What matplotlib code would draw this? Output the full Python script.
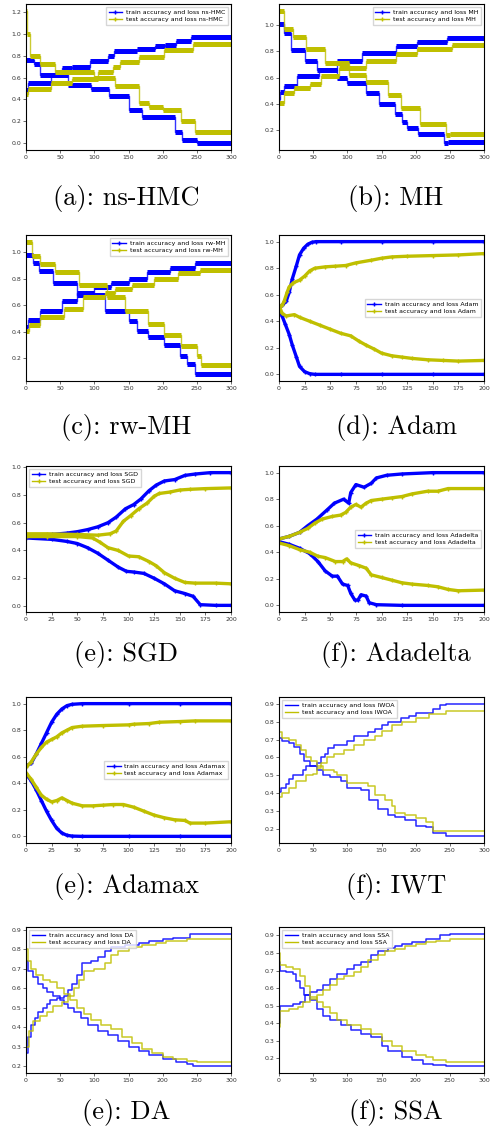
"""Training curves for eight optimisers, 5x2 grid with captions."""

import matplotlib

matplotlib.use("Agg")
import matplotlib.pyplot as plt
from matplotlib.lines import Line2D
from matplotlib.ticker import MultipleLocator

BLUE = "#0000ff"
YELLOW = "#bfbf00"

# ---- step-like sampler runs (x where value starts, value) ----
nshmc_train_acc = [(0, 0.49), (3, 0.55), (37, 0.62), (45, 0.64), (52, 0.69), (67, 0.70),
                   (94, 0.75), (120, 0.80), (129, 0.84), (163, 0.86), (189, 0.89),
                   (203, 0.90), (220, 0.93), (242, 0.97)]
nshmc_train_loss = [(0, 0.76), (11, 0.72), (20, 0.62), (62, 0.53), (95, 0.50), (122, 0.43),
                    (150, 0.30), (170, 0.24), (218, 0.10), (228, 0.03), (250, 0.00)]
nshmc_test_acc = [(0, 0.45), (3, 0.50), (37, 0.55), (67, 0.59), (105, 0.65), (128, 0.70),
                  (137, 0.74), (165, 0.79), (202, 0.85), (245, 0.91)]
nshmc_test_loss = [(0, 1.21), (1, 1.00), (6, 0.80), (20, 0.72), (42, 0.65), (99, 0.60),
                   (130, 0.52), (165, 0.37), (180, 0.33), (200, 0.30), (227, 0.20),
                   (247, 0.10)]

mh_train_acc = [(0, 0.44), (2, 0.49), (7, 0.54), (26, 0.61), (58, 0.66), (85, 0.73),
                (121, 0.79), (171, 0.84), (202, 0.87), (246, 0.90)]
mh_train_loss = [(0, 1.01), (7, 0.94), (18, 0.81), (38, 0.73), (55, 0.66), (85, 0.60),
                 (100, 0.56), (127, 0.48), (147, 0.40), (170, 0.32), (180, 0.26),
                 (188, 0.22), (203, 0.17), (242, 0.10), (247, 0.11)]
mh_test_acc = [(0, 0.41), (7, 0.48), (22, 0.52), (46, 0.55), (61, 0.61), (88, 0.67),
               (127, 0.73), (171, 0.78), (202, 0.82), (253, 0.85)]
mh_test_loss = [(0, 1.11), (8, 0.97), (20, 0.91), (40, 0.82), (68, 0.71), (103, 0.62),
                (127, 0.57), (159, 0.47), (179, 0.37), (207, 0.25), (245, 0.16),
                (250, 0.17)]

rwmh_train_acc = [(0, 0.44), (3, 0.49), (20, 0.56), (53, 0.63), (75, 0.69), (100, 0.74),
                  (125, 0.77), (150, 0.80), (177, 0.85), (210, 0.88), (247, 0.92)]
rwmh_train_loss = [(0, 0.98), (10, 0.92), (19, 0.86), (39, 0.77), (75, 0.68), (115, 0.56),
                   (150, 0.48), (163, 0.41), (178, 0.36), (202, 0.30), (225, 0.22),
                   (235, 0.16), (248, 0.08)]
rwmh_test_acc = [(0, 0.41), (5, 0.45), (20, 0.51), (55, 0.57), (83, 0.66), (115, 0.69),
                 (130, 0.72), (155, 0.75), (188, 0.80), (222, 0.84), (255, 0.87)]
rwmh_test_loss = [(0, 1.08), (9, 0.97), (20, 0.91), (43, 0.85), (78, 0.75), (118, 0.66),
                  (145, 0.56), (178, 0.46), (202, 0.38), (227, 0.29), (250, 0.22),
                  (256, 0.15)]

# ---- gradient optimisers (epoch, value) ----
adam_train_acc = [(0, 0.50), (3, 0.52), (7, 0.55), (10, 0.62), (13, 0.72), (17, 0.82),
                  (20, 0.90), (24, 0.95), (28, 0.98), (32, 0.995), (36, 1.0), (60, 1.0),
                  (100, 1.0), (150, 1.0), (200, 1.0)]
adam_train_loss = [(0, 0.50), (3, 0.44), (6, 0.38), (10, 0.30), (13, 0.22), (17, 0.13),
                   (20, 0.06), (25, 0.02), (30, 0.005), (35, 0.0), (60, 0.0), (100, 0.0),
                   (150, 0.0), (200, 0.0)]
adam_test_acc = [(0, 0.50), (3, 0.52), (5, 0.55), (8, 0.62), (10, 0.66), (14, 0.69),
                 (20, 0.71), (25, 0.74), (30, 0.78), (35, 0.80), (45, 0.81), (55, 0.815),
                 (65, 0.82), (75, 0.84), (90, 0.86), (100, 0.875), (110, 0.885),
                 (125, 0.89), (150, 0.895), (175, 0.90), (200, 0.91)]
adam_test_loss = [(0, 0.52), (3, 0.46), (7, 0.44), (15, 0.45), (20, 0.43), (30, 0.40),
                  (40, 0.37), (50, 0.34), (60, 0.31), (70, 0.29), (78, 0.25), (85, 0.22),
                  (93, 0.19), (100, 0.16), (110, 0.14), (120, 0.13), (130, 0.12),
                  (145, 0.11), (160, 0.105), (175, 0.10), (200, 0.105)]

sgd_train_acc = [(0, 0.51), (25, 0.515), (40, 0.525), (50, 0.535), (60, 0.55), (70, 0.57),
                 (80, 0.60), (88, 0.64), (97, 0.70), (105, 0.73), (112, 0.77), (120, 0.83),
                 (127, 0.87), (135, 0.90), (145, 0.91), (155, 0.94), (165, 0.95),
                 (180, 0.96), (200, 0.96)]
sgd_train_loss = [(0, 0.49), (25, 0.48), (40, 0.465), (50, 0.45), (60, 0.42), (70, 0.38),
                  (80, 0.33), (90, 0.28), (98, 0.25), (105, 0.245), (115, 0.235),
                  (125, 0.20), (135, 0.16), (145, 0.11), (155, 0.09), (163, 0.07),
                  (170, 0.01), (185, 0.005), (200, 0.005)]
sgd_test_acc = [(0, 0.52), (20, 0.52), (50, 0.515), (70, 0.51), (82, 0.52), (88, 0.54),
                (95, 0.61), (102, 0.65), (110, 0.70), (118, 0.74), (125, 0.79), (130, 0.81),
                (140, 0.82), (150, 0.835), (160, 0.84), (175, 0.845), (200, 0.85)]
sgd_test_loss = [(0, 0.50), (20, 0.50), (50, 0.50), (65, 0.49), (72, 0.46), (80, 0.42),
                 (90, 0.40), (100, 0.36), (110, 0.355), (120, 0.32), (127, 0.29),
                 (135, 0.24), (145, 0.20), (155, 0.17), (165, 0.165), (185, 0.165),
                 (200, 0.16)]

adadelta_train_acc = [(0, 0.50), (10, 0.52), (20, 0.55), (28, 0.60), (37, 0.65), (47, 0.72),
                      (54, 0.77), (63, 0.80), (68, 0.77), (70, 0.85), (75, 0.91),
                      (83, 0.89), (90, 0.92), (95, 0.96), (105, 0.98), (120, 0.99),
                      (150, 1.0), (200, 1.0)]
adadelta_train_loss = [(0, 0.48), (10, 0.46), (20, 0.43), (30, 0.39), (38, 0.33),
                       (45, 0.26), (52, 0.22), (57, 0.22), (62, 0.16), (67, 0.15),
                       (70, 0.09), (74, 0.04), (77, 0.04), (80, 0.08), (85, 0.07),
                       (88, 0.02), (95, 0.005), (120, 0.0), (200, 0.0)]
adadelta_test_acc = [(0, 0.50), (10, 0.52), (20, 0.55), (28, 0.58), (35, 0.62), (42, 0.65),
                     (52, 0.67), (60, 0.68), (65, 0.70), (70, 0.74), (75, 0.76), (80, 0.74),
                     (85, 0.77), (90, 0.79), (100, 0.80), (110, 0.81), (120, 0.82),
                     (130, 0.84), (145, 0.86), (155, 0.86), (165, 0.88), (200, 0.88)]
adadelta_test_loss = [(0, 0.47), (10, 0.45), (20, 0.42), (30, 0.40), (38, 0.37), (45, 0.36),
                      (55, 0.33), (62, 0.33), (66, 0.35), (70, 0.32), (78, 0.30),
                      (85, 0.28), (90, 0.23), (100, 0.21), (110, 0.19), (120, 0.17),
                      (130, 0.16), (145, 0.15), (155, 0.14), (165, 0.12), (175, 0.11),
                      (200, 0.115)]

adamax_train_acc = [(0, 0.53), (5, 0.55), (10, 0.62), (15, 0.70), (20, 0.78), (25, 0.86),
                    (30, 0.92), (35, 0.96), (40, 0.985), (45, 0.995), (55, 1.0), (100, 1.0),
                    (150, 1.0), (200, 1.0)]
adamax_train_loss = [(0, 0.47), (5, 0.42), (10, 0.35), (15, 0.27), (20, 0.19), (25, 0.12),
                     (30, 0.06), (35, 0.025), (40, 0.008), (45, 0.002), (55, 0.0),
                     (100, 0.0), (150, 0.0), (200, 0.0)]
adamax_test_acc = [(0, 0.52), (5, 0.56), (10, 0.62), (15, 0.67), (20, 0.71), (25, 0.73),
                   (30, 0.75), (35, 0.78), (40, 0.80), (45, 0.82), (55, 0.83), (75, 0.835),
                   (100, 0.84), (105, 0.845), (120, 0.85), (130, 0.86), (150, 0.865),
                   (165, 0.87), (200, 0.87)]
adamax_test_loss = [(0, 0.48), (5, 0.43), (10, 0.37), (15, 0.31), (20, 0.28), (25, 0.26),
                    (30, 0.27), (35, 0.29), (40, 0.27), (45, 0.25), (55, 0.23), (65, 0.23),
                    (75, 0.235), (85, 0.24), (95, 0.24), (105, 0.22), (115, 0.19),
                    (125, 0.16), (135, 0.14), (145, 0.125), (155, 0.12), (160, 0.10),
                    (175, 0.10), (200, 0.11)]

# ---- metaheuristic runs, thin steps ----
iwt_train_acc = [(0, 0.41), (3, 0.43), (10, 0.45), (15, 0.48), (20, 0.50), (35, 0.53),
                 (40, 0.55), (55, 0.57), (62, 0.60), (67, 0.62), (72, 0.65), (80, 0.67),
                 (100, 0.69), (110, 0.72), (130, 0.74), (140, 0.76), (150, 0.78),
                 (160, 0.80), (178, 0.82), (190, 0.83), (200, 0.85), (225, 0.87),
                 (235, 0.89), (245, 0.90), (300, 0.90)]
iwt_train_loss = [(0, 0.71), (5, 0.69), (15, 0.68), (22, 0.66), (30, 0.62), (37, 0.58),
                  (45, 0.55), (55, 0.53), (65, 0.50), (75, 0.49), (90, 0.47), (100, 0.43),
                  (120, 0.42), (132, 0.36), (145, 0.31), (160, 0.28), (170, 0.27),
                  (185, 0.25), (200, 0.22), (215, 0.21), (225, 0.18), (245, 0.16),
                  (300, 0.16)]
iwt_test_acc = [(0, 0.38), (5, 0.40), (15, 0.43), (25, 0.47), (40, 0.50), (50, 0.51),
                (55, 0.54), (62, 0.57), (70, 0.60), (80, 0.62), (95, 0.64), (110, 0.67),
                (125, 0.70), (140, 0.72), (150, 0.75), (165, 0.78), (180, 0.80),
                (200, 0.82), (220, 0.84), (245, 0.86), (300, 0.86)]
iwt_test_loss = [(0, 0.74), (5, 0.71), (15, 0.70), (25, 0.67), (32, 0.64), (40, 0.60),
                 (47, 0.58), (55, 0.55), (65, 0.53), (80, 0.52), (85, 0.50), (100, 0.46),
                 (130, 0.44), (140, 0.39), (155, 0.36), (165, 0.33), (170, 0.29),
                 (185, 0.28), (200, 0.26), (215, 0.24), (225, 0.19), (300, 0.19)]

da_train_acc = [(0, 0.27), (3, 0.35), (8, 0.41), (13, 0.45), (18, 0.48), (25, 0.50),
                (30, 0.52), (35, 0.54), (45, 0.55), (55, 0.56), (62, 0.59), (67, 0.62),
                (75, 0.67), (82, 0.73), (95, 0.74), (105, 0.76), (115, 0.79), (125, 0.81),
                (145, 0.82), (165, 0.83), (180, 0.84), (200, 0.85), (215, 0.86),
                (240, 0.88), (300, 0.88)]
da_train_loss = [(0, 0.74), (3, 0.69), (10, 0.66), (18, 0.62), (25, 0.60), (30, 0.58),
                 (40, 0.56), (50, 0.54), (55, 0.52), (62, 0.50), (70, 0.48), (80, 0.45),
                 (90, 0.41), (105, 0.38), (120, 0.36), (135, 0.33), (150, 0.30),
                 (165, 0.28), (180, 0.26), (200, 0.24), (220, 0.22), (235, 0.21),
                 (245, 0.20), (300, 0.20)]
da_test_acc = [(0, 0.30), (5, 0.38), (10, 0.43), (20, 0.46), (30, 0.48), (40, 0.51),
               (52, 0.53), (62, 0.56), (70, 0.60), (78, 0.64), (85, 0.69), (100, 0.70),
               (115, 0.73), (125, 0.77), (135, 0.79), (150, 0.81), (170, 0.82),
               (190, 0.83), (205, 0.84), (235, 0.85), (300, 0.85)]
da_test_loss = [(0, 0.80), (3, 0.74), (8, 0.70), (15, 0.67), (25, 0.64), (35, 0.63),
                (45, 0.60), (55, 0.57), (65, 0.54), (75, 0.50), (85, 0.47), (95, 0.44),
                (110, 0.41), (125, 0.39), (140, 0.35), (155, 0.32), (170, 0.29),
                (185, 0.27), (200, 0.25), (215, 0.24), (235, 0.23), (250, 0.22),
                (300, 0.22)]

ssa_train_acc = [(0, 0.40), (2, 0.50), (20, 0.51), (30, 0.52), (38, 0.56), (45, 0.58),
                 (55, 0.59), (65, 0.62), (75, 0.65), (85, 0.68), (100, 0.71), (110, 0.73),
                 (120, 0.75), (135, 0.79), (145, 0.81), (160, 0.83), (170, 0.84),
                 (180, 0.85), (195, 0.86), (215, 0.88), (235, 0.90), (250, 0.91),
                 (300, 0.91)]
ssa_train_loss = [(0, 0.75), (2, 0.70), (10, 0.69), (20, 0.68), (25, 0.64), (30, 0.60),
                  (37, 0.56), (45, 0.53), (55, 0.48), (65, 0.44), (75, 0.42), (90, 0.39),
                  (105, 0.36), (120, 0.34), (135, 0.32), (150, 0.27), (160, 0.24),
                  (180, 0.21), (195, 0.19), (210, 0.17), (225, 0.16), (245, 0.155),
                  (300, 0.155)]
ssa_test_acc = [(0, 0.38), (2, 0.47), (15, 0.48), (28, 0.49), (35, 0.52), (45, 0.54),
                (55, 0.56), (65, 0.59), (75, 0.62), (85, 0.65), (95, 0.67), (110, 0.69),
                (120, 0.72), (130, 0.76), (145, 0.79), (155, 0.81), (170, 0.82),
                (185, 0.84), (200, 0.85), (215, 0.86), (230, 0.87), (250, 0.88),
                (300, 0.88)]
ssa_test_loss = [(0, 0.80), (2, 0.73), (10, 0.72), (20, 0.71), (30, 0.67), (38, 0.61),
                 (45, 0.55), (55, 0.52), (65, 0.49), (75, 0.46), (85, 0.42), (100, 0.39),
                 (120, 0.37), (135, 0.34), (150, 0.30), (165, 0.27), (180, 0.24),
                 (200, 0.22), (215, 0.21), (225, 0.19), (245, 0.18), (300, 0.18)]

# name, caption, kind, x max, legend loc, y step, four series
panels = [
    ("ns-HMC", "(a): ns-HMC", "thick", 300, "upper right", 0.2,
     nshmc_train_acc, nshmc_train_loss, nshmc_test_acc, nshmc_test_loss),
    ("MH", "(b): MH", "thick", 300, "upper right", 0.2,
     mh_train_acc, mh_train_loss, mh_test_acc, mh_test_loss),
    ("rw-MH", "(c): rw-MH", "thick", 300, "upper right", 0.2,
     rwmh_train_acc, rwmh_train_loss, rwmh_test_acc, rwmh_test_loss),
    ("Adam", "(d): Adam", "smooth", 200, "center right", 0.2,
     adam_train_acc, adam_train_loss, adam_test_acc, adam_test_loss),
    ("SGD", "(e): SGD", "smooth", 200, "upper left", 0.2,
     sgd_train_acc, sgd_train_loss, sgd_test_acc, sgd_test_loss),
    ("Adadelta", "(f): Adadelta", "smooth", 200, "center right", 0.2,
     adadelta_train_acc, adadelta_train_loss, adadelta_test_acc, adadelta_test_loss),
    ("Adamax", "(e): Adamax", "smooth", 200, "center right", 0.2,
     adamax_train_acc, adamax_train_loss, adamax_test_acc, adamax_test_loss),
    ("IWOA", "(f): IWT", "thin", 300, "upper left", 0.1,
     iwt_train_acc, iwt_train_loss, iwt_test_acc, iwt_test_loss),
    ("DA", "(e): DA", "thin", 300, "upper left", 0.1,
     da_train_acc, da_train_loss, da_test_acc, da_test_loss),
    ("SSA", "(f): SSA", "thin", 300, "upper left", 0.1,
     ssa_train_acc, ssa_train_loss, ssa_test_acc, ssa_test_loss),
]

W, H = 494, 1133
fig = plt.figure(figsize=(W / 100, H / 100), dpi=100)

col_left = [26, 279]
col_cap = [126, 396]
row_top = [4, 235, 466, 697, 927]
row_cap = [199, 427, 655, 886, 1113]
ax_w, ax_h = 205, 146


def draw_series(ax, pts, color, kind, xmax):
    xs = [p[0] for p in pts]
    ys = [p[1] for p in pts]
    if kind == "thick":
        ends = xs[1:] + [xmax]
        ax.step(xs + [xmax], ys + [ys[-1]], where="post", color=color, lw=1.0, alpha=0.8)
        ax.hlines(ys, xs, ends, color=color, lw=3.6)
    elif kind == "smooth":
        ax.plot(xs, ys, color=color, lw=2.4, marker="+", ms=3.5, mew=1.0)
    else:
        ax.step(xs, ys, where="post", color=color, lw=1.1, alpha=0.85)


for i, (name, cap, kind, xmax, loc, ystep, tr_acc, tr_loss, te_acc, te_loss) in enumerate(panels):
    r, c = divmod(i, 2)
    left = col_left[c] / W
    bottom = 1 - (row_top[r] + ax_h) / H
    ax = fig.add_axes([left, bottom, ax_w / W, ax_h / H])
    for pts, color in ((tr_acc, BLUE), (tr_loss, BLUE), (te_acc, YELLOW), (te_loss, YELLOW)):
        draw_series(ax, pts, color, kind, xmax)
    ax.set_xlim(0, xmax)
    ax.xaxis.set_major_locator(MultipleLocator(50 if xmax == 300 else 25))
    ax.yaxis.set_major_locator(MultipleLocator(ystep))
    ax.tick_params(labelsize=4.5, length=2, width=0.5, pad=1.5, colors="#333333")
    for sp in ax.spines.values():
        sp.set_linewidth(0.8)
    marker = None if kind == "thin" else "+"
    handles = [Line2D([], [], color=BLUE, lw=1.0, marker=marker, ms=3),
               Line2D([], [], color=YELLOW, lw=1.0, marker=marker, ms=3)]
    ax.legend(handles, [f"train accuracy and loss {name}", f"test accuracy and loss {name}"],
              loc=loc, fontsize=4.5, handlelength=2.2, handletextpad=0.6, borderpad=0.4,
              labelspacing=0.3, framealpha=0.8, edgecolor="#cccccc", fancybox=False)
    fig.text(col_cap[c] / W, 1 - row_cap[r] / H, cap, ha="center", va="center",
             fontsize=19, family=["cmr10", "DejaVu Serif"])

fig.savefig("out.png", dpi=100)
